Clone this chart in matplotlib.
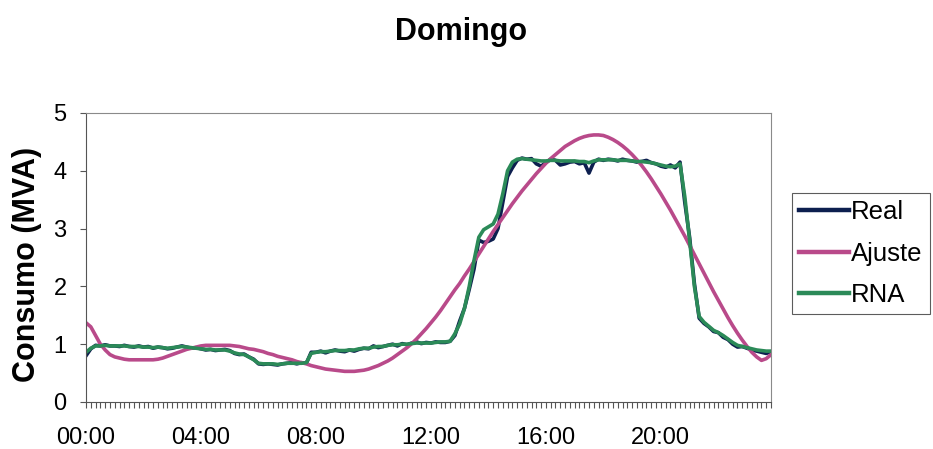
import numpy as np
import matplotlib
matplotlib.use('Agg')
import matplotlib.pyplot as plt
from matplotlib.ticker import FixedLocator, MultipleLocator

plt.rcParams['font.family'] = ['Liberation Sans', 'DejaVu Sans']

# one sample every 10 minutes, 144 per day
hour_labels = ['00:00', '04:00', '08:00', '12:00', '16:00', '20:00']

real = [
    0.80, 0.92, 0.98, 0.97, 0.99, 0.97,
    0.97, 0.96, 0.98, 0.96, 0.95, 0.97,
    0.95, 0.96, 0.93, 0.95, 0.94, 0.92,
    0.93, 0.95, 0.97, 0.95, 0.93, 0.94,
    0.92, 0.90, 0.91, 0.89, 0.90, 0.91,
    0.89, 0.84, 0.82, 0.83, 0.78, 0.74,
    0.66, 0.65, 0.66, 0.65, 0.64, 0.66,
    0.67, 0.68, 0.66, 0.68, 0.67, 0.86,
    0.86, 0.88, 0.85, 0.88, 0.90, 0.88,
    0.87, 0.90, 0.88, 0.91, 0.93, 0.92,
    0.97, 0.94, 0.96, 0.98, 1.00, 0.97,
    1.01, 0.99, 1.02, 1.04, 1.01, 1.03,
    1.02, 1.04, 1.03, 1.03, 1.05, 1.15,
    1.40, 1.62, 1.95, 2.30, 2.80, 2.76,
    2.78, 2.82, 3.00, 3.45, 3.90, 4.05,
    4.18, 4.22, 4.20, 4.21, 4.12, 4.08,
    4.14, 4.20, 4.18, 4.10, 4.12, 4.15,
    4.16, 4.12, 4.14, 3.96, 4.15, 4.20,
    4.18, 4.20, 4.19, 4.17, 4.20, 4.18,
    4.17, 4.15, 4.16, 4.18, 4.14, 4.12,
    4.08, 4.06, 4.10, 4.05, 4.15, 3.45,
    2.85, 2.05, 1.45, 1.36, 1.30, 1.22,
    1.20, 1.12, 1.08, 1.00, 0.95, 0.96,
    0.93, 0.90, 0.88, 0.86, 0.84, 0.87,
]

ajuste = [
    1.37, 1.30, 1.15, 1.00, 0.90, 0.82,
    0.78, 0.76, 0.74, 0.73, 0.73, 0.73,
    0.73, 0.73, 0.73, 0.74, 0.76, 0.79,
    0.82, 0.85, 0.88, 0.91, 0.93, 0.95,
    0.97, 0.98, 0.98, 0.98, 0.98, 0.98,
    0.98, 0.97, 0.96, 0.94, 0.92, 0.91,
    0.89, 0.87, 0.84, 0.82, 0.79, 0.77,
    0.75, 0.73, 0.70, 0.68, 0.66, 0.63,
    0.61, 0.59, 0.57, 0.56, 0.55, 0.54,
    0.53, 0.53, 0.53, 0.54, 0.55, 0.57,
    0.60, 0.63, 0.67, 0.71, 0.76, 0.82,
    0.88, 0.94, 1.01, 1.09, 1.18, 1.27,
    1.37, 1.47, 1.58, 1.70, 1.82, 1.94,
    2.05, 2.18, 2.30, 2.43, 2.56, 2.69,
    2.82, 2.95, 3.07, 3.19, 3.31, 3.43,
    3.54, 3.65, 3.75, 3.85, 3.95, 4.04,
    4.13, 4.21, 4.28, 4.35, 4.42, 4.47,
    4.52, 4.56, 4.59, 4.61, 4.62, 4.62,
    4.61, 4.58, 4.54, 4.49, 4.43, 4.36,
    4.28, 4.19, 4.09, 3.98, 3.86, 3.73,
    3.60, 3.46, 3.32, 3.17, 3.02, 2.87,
    2.71, 2.55, 2.39, 2.23, 2.07, 1.91,
    1.76, 1.61, 1.46, 1.32, 1.19, 1.07,
    0.96, 0.86, 0.78, 0.72, 0.75, 0.82,
]

rna = [
    0.86, 0.93, 0.97, 0.97, 0.98, 0.97,
    0.97, 0.97, 0.97, 0.96, 0.96, 0.96,
    0.95, 0.95, 0.94, 0.95, 0.94, 0.93,
    0.94, 0.95, 0.96, 0.95, 0.94, 0.93,
    0.92, 0.91, 0.91, 0.90, 0.90, 0.90,
    0.88, 0.85, 0.83, 0.82, 0.78, 0.73,
    0.67, 0.66, 0.66, 0.66, 0.65, 0.66,
    0.67, 0.67, 0.67, 0.67, 0.68, 0.84,
    0.86, 0.87, 0.87, 0.88, 0.89, 0.89,
    0.89, 0.90, 0.90, 0.92, 0.93, 0.93,
    0.95, 0.96, 0.96, 0.98, 0.99, 0.99,
    1.00, 1.00, 1.01, 1.02, 1.02, 1.02,
    1.02, 1.03, 1.04, 1.04, 1.05, 1.18,
    1.35, 1.62, 2.00, 2.45, 2.85, 2.98,
    3.03, 3.08, 3.25, 3.60, 4.00, 4.15,
    4.20, 4.21, 4.20, 4.19, 4.18, 4.17,
    4.17, 4.18, 4.18, 4.17, 4.17, 4.17,
    4.17, 4.16, 4.16, 4.14, 4.17, 4.19,
    4.19, 4.19, 4.19, 4.18, 4.18, 4.18,
    4.17, 4.16, 4.16, 4.15, 4.14, 4.12,
    4.10, 4.08, 4.07, 4.08, 4.12, 3.55,
    2.80, 2.00, 1.48, 1.38, 1.31, 1.24,
    1.20, 1.15, 1.09, 1.03, 0.98, 0.96,
    0.94, 0.92, 0.90, 0.89, 0.88, 0.88,
]

x = np.arange(len(real))

fig = plt.figure(figsize=(9.33, 4.49), dpi=100)
ax = fig.add_axes([0.0922, 0.1047, 0.7342, 0.6437])

ax.plot(x, real, color='#0d1f4f', lw=2.6, label='Real')
ax.plot(x, ajuste, color='#b94a8a', lw=2.6, label='Ajuste')
ax.plot(x, rna, color='#2b8a58', lw=2.6, label='RNA')

ax.set_xlim(0, len(x) - 1)
ax.set_ylim(0, 5)
ax.yaxis.set_major_locator(MultipleLocator(1))
ax.xaxis.set_major_locator(FixedLocator(np.arange(0, len(x), 24)))
ax.set_xticklabels(hour_labels)
ax.xaxis.set_minor_locator(MultipleLocator(1))

ax.tick_params(axis='x', which='both', direction='out', length=4, width=0.8,
               color='#555555', labelsize=17, pad=14)
ax.tick_params(axis='y', direction='out', length=4, width=0.8,
               color='#555555', labelsize=17, pad=10)

for side in ['top', 'right']:
    ax.spines[side].set_color('#8a8a8a')
for side in ['left', 'bottom']:
    ax.spines[side].set_color('#555555')

fig.text(0.494, 0.929, 'Domingo', ha='center', va='center',
         fontsize=22, fontweight='bold')
fig.text(0.029, 0.41, 'Consumo (MVA)', ha='center', va='center',
         rotation=90, fontsize=22, fontweight='bold')

leg = fig.legend(loc='upper left', bbox_to_anchor=(0.849, 0.570),
                 fontsize=18.5, frameon=True, fancybox=False,
                 handlelength=1.95, handletextpad=0.06, labelspacing=0.68,
                 borderpad=0.28, borderaxespad=0)
leg.get_frame().set_edgecolor('#333333')
leg.get_frame().set_linewidth(0.8)
for line in leg.get_lines():
    line.set_linewidth(3.2)

fig.savefig('out.png', dpi=100)
